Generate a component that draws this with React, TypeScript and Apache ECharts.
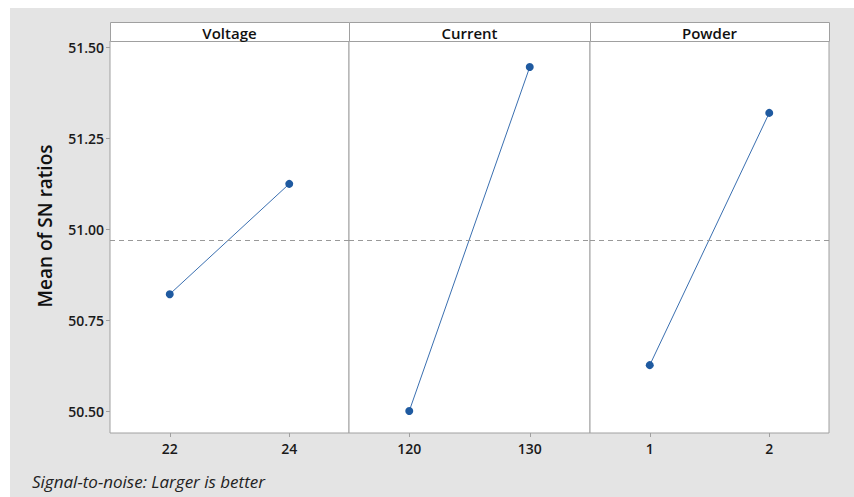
import React, { useEffect, useRef } from "react";
import * as echarts from "echarts";

const panels = ["Voltage", "Current", "Powder"];
const levels = [
  ["22", "24"],
  ["120", "130"],
  ["1", "2"],
];
const meanSN = [
  [50.821, 51.124],
  [50.5, 51.445],
  [50.626, 51.319],
];
const overallMean = 50.9725;
const yTicks = [50.5, 50.75, 51.0, 51.25, 51.5];
const yTitle = "Mean of SN ratios";
const footnote = "Signal-to-noise: Larger is better";

const W = 854;
const H = 497;
const panelLefts = [110, 349, 590];
const panelRight = 829;
const plotTop = 41;
const plotBottom = 433;
const headerTop = 22;
const border = "#a0a0a0";
const font = "'Open Sans', 'Noto Sans', sans-serif";

export default function App() {
  const ref = useRef<HTMLDivElement>(null);
  useEffect(() => {
    document.body.style.margin = "0";
    if (!ref.current) return;
    const chart = echarts.init(ref.current, null, { renderer: "svg" });
    const edges = [...panelLefts, panelRight];
    const grids = panels.map((_, i) => ({
      left: edges[i],
      right: W - edges[i + 1],
      top: plotTop,
      bottom: H - plotBottom,
      show: true,
      backgroundColor: "#ffffff",
      borderColor: border,
      borderWidth: 1,
    }));
    const xAxes = panels.map((_, i) => ({
      type: "category",
      gridIndex: i,
      data: levels[i],
      boundaryGap: true,
      axisLine: { show: false },
      axisTick: { show: true, alignWithLabel: true, length: 4, lineStyle: { color: border } },
      axisLabel: { color: "#1a1a1a", fontSize: 14, fontWeight: 600, fontFamily: font, margin: 8 },
      splitLine: { show: false },
    }));
    const yAxes = panels.map((_, i) => ({
      type: "value",
      gridIndex: i,
      min: 50.4396,
      max: 51.5165,
      axisLine: { show: false },
      axisTick: {
        show: i === 0,
        length: 4,
        customValues: yTicks,
        lineStyle: { color: border },
      },
      axisLabel: {
        show: i === 0,
        customValues: yTicks,
        formatter: (v: number) => v.toFixed(2),
        color: "#1a1a1a",
        fontSize: 14,
        fontWeight: 600,
        fontFamily: font,
        margin: 6,
      },
      splitLine: { show: false },
    }));
    const series = panels.map((name, i) => ({
      type: "line",
      name,
      xAxisIndex: i,
      yAxisIndex: i,
      data: meanSN[i],
      symbol: "circle",
      symbolSize: 8,
      itemStyle: { color: "#1f5aa0" },
      lineStyle: { color: "#3a6fb0", width: 1 },
      markLine: {
        silent: true,
        symbol: "none",
        label: { show: false },
        lineStyle: { color: "#999999", type: [5, 4], width: 1 },
        data: [{ yAxis: overallMean }],
      },
    }));
    const graphics: any[] = [
      { type: "rect", shape: { x: 0, y: 0, width: W, height: H }, style: { fill: "#ffffff" }, z: -10 },
      { type: "rect", shape: { x: 10, y: 8, width: W - 10, height: H - 8 }, style: { fill: "#e4e4e4" }, z: -9 },
      {
        type: "text",
        x: 45,
        y: 226,
        rotation: Math.PI / 2,
        style: {
          text: yTitle,
          fontSize: 19,
          fontWeight: 600,
          fontFamily: font,
          fill: "#111111",
          align: "center",
          verticalAlign: "middle",
        },
      },
      {
        type: "text",
        x: 32,
        y: 481,
        style: {
          text: footnote,
          fontSize: 17,
          fontStyle: "italic",
          fontFamily: font,
          fill: "#222222",
          align: "left",
          verticalAlign: "middle",
        },
      },
    ];
    panels.forEach((name, i) => {
      graphics.push({
        type: "rect",
        shape: { x: edges[i] + 0.5, y: headerTop + 0.5, width: edges[i + 1] - edges[i], height: plotTop - headerTop },
        style: { fill: "#ffffff", stroke: border, lineWidth: 1 },
        z: 5,
      });
      graphics.push({
        type: "text",
        x: (edges[i] + edges[i + 1]) / 2,
        y: (headerTop + plotTop) / 2 + 1,
        style: {
          text: name,
          fontSize: 15,
          fontWeight: 600,
          fontFamily: font,
          fill: "#111111",
          align: "center",
          verticalAlign: "middle",
        },
        z: 6,
      });
    });
    chart.setOption({
      animation: false,
      grid: grids,
      xAxis: xAxes,
      yAxis: yAxes,
      series,
      graphic: graphics,
    });
    return () => chart.dispose();
  }, []);
  return <div ref={ref} style={{ width: W, height: H }} />;
}
